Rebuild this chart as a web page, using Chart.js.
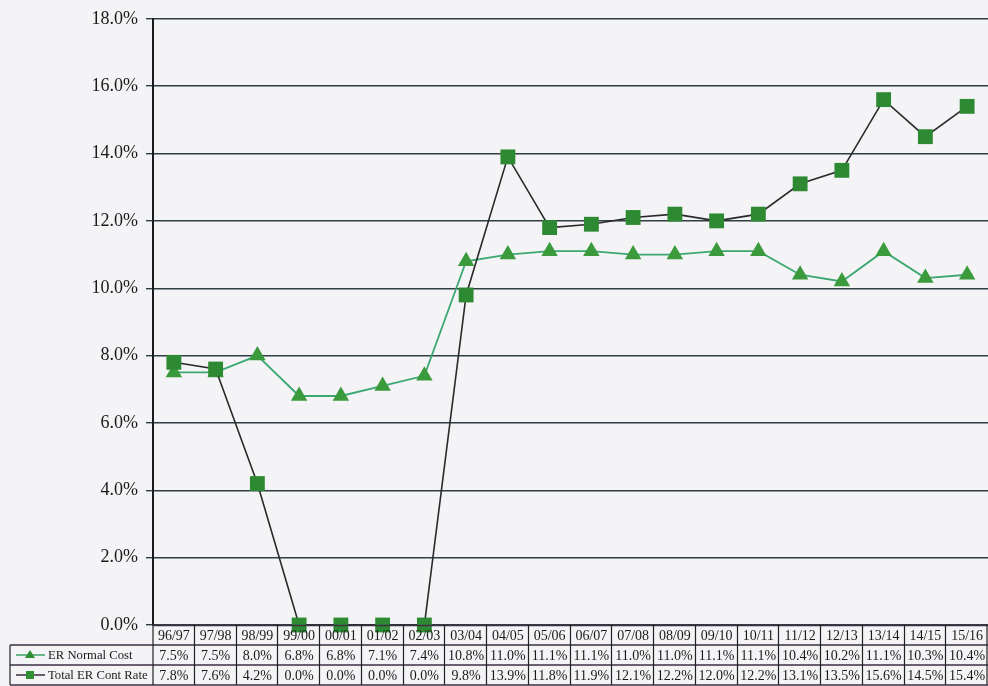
<!DOCTYPE html>
<html>
<head>
<meta charset="utf-8">
<script src="https://cdn.jsdelivr.net/npm/chart.js@4/dist/chart.umd.min.js"></script>
<style>
html,body{margin:0;padding:0;background:#f4f3f6;}
#wrap{width:988px;height:686px;position:relative;}
</style>
</head>
<body>
<div id="wrap"><canvas id="c" width="988" height="686"></canvas></div>
<script>
const categories = ["96/97","97/98","98/99","99/00","00/01","01/02","02/03","03/04","04/05","05/06","06/07","07/08","08/09","09/10","10/11","11/12","12/13","13/14","14/15","15/16"];
const erNormalCost = [7.5,7.5,8.0,6.8,6.8,7.1,7.4,10.8,11.0,11.1,11.1,11.0,11.0,11.1,11.1,10.4,10.2,11.1,10.3,10.4];
const totalERContRate = [7.8,7.6,4.2,0.0,0.0,0.0,0.0,9.8,13.9,11.8,11.9,12.1,12.2,12.0,12.2,13.1,13.5,15.6,14.5,15.4];
const seriesNames = ["ER Normal Cost","Total ER Cont Rate"];
const yTicks = [0,2,4,6,8,10,12,14,16,18];

const bgPlugin = {
  id:'bg',
  beforeDraw(chart){
    const ctx = chart.ctx;
    ctx.save();
    ctx.fillStyle = '#f4f3f6';
    ctx.fillRect(0,0,chart.width,chart.height);
    ctx.restore();
  }
};

const tablePlugin = {
  id:'dataTable',
  afterDraw(chart){
    const ctx = chart.ctx;
    const x = chart.scales.x;
    const area = chart.chartArea;
    const n = categories.length;
    const colW = (area.right - area.left) / n;
    const top = area.bottom;
    const r1 = top + 20, r2 = top + 40, r3 = chart.height - 1;
    const legLeft = 10;
    ctx.save();
    ctx.lineWidth = 1.3;
    ctx.strokeStyle = '#3d3046';
    ctx.beginPath();
    ctx.moveTo(area.left, top + 0.5); ctx.lineTo(area.right, top + 0.5);
    ctx.moveTo(legLeft, r1); ctx.lineTo(area.right, r1);
    ctx.moveTo(legLeft, r2); ctx.lineTo(area.right, r2);
    ctx.moveTo(legLeft, r3); ctx.lineTo(area.right, r3);
    ctx.stroke();
    ctx.strokeStyle = '#222';
    ctx.lineWidth = 1.2;
    ctx.beginPath();
    ctx.moveTo(legLeft, r1); ctx.lineTo(legLeft, r3);
    ctx.moveTo(area.left, top); ctx.lineTo(area.left, r3);
    for (let i = 1; i <= n; i++) {
      const bx = Math.min(Math.round(area.left + colW * i) - 0.5, chart.width - 1);
      ctx.moveTo(bx, top); ctx.lineTo(bx, r3);
    }
    ctx.stroke();
    ctx.fillStyle = '#1a1a1a';
    ctx.font = '14px "Liberation Serif", "Times New Roman", serif';
    ctx.textAlign = 'center';
    ctx.textBaseline = 'middle';
    for (let i = 0; i < n; i++) {
      const cx = x.getPixelForValue(i);
      ctx.fillText(categories[i], cx, (top + r1) / 2 + 1);
      ctx.fillText(erNormalCost[i].toFixed(1) + '%', cx, (r1 + r2) / 2 + 1);
      ctx.fillText(totalERContRate[i].toFixed(1) + '%', cx, (r2 + r3) / 2 + 1);
    }
    const rows = [(r1 + r2) / 2, (r2 + r3) / 2];
    const lineColors = ['#3aa36a', '#3a2a40'];
    ctx.font = '12.7px "Liberation Serif", "Times New Roman", serif';
    rows.forEach((ry, k) => {
      ctx.strokeStyle = lineColors[k];
      ctx.lineWidth = 1.5;
      ctx.beginPath(); ctx.moveTo(16, ry); ctx.lineTo(45, ry); ctx.stroke();
      ctx.fillStyle = '#2f8f32';
      if (k === 0) {
        ctx.beginPath(); ctx.moveTo(30, ry - 5); ctx.lineTo(35, ry + 3); ctx.lineTo(25, ry + 3); ctx.closePath(); ctx.fill();
      } else {
        ctx.fillRect(26, ry - 4, 8, 8);
      }
      ctx.fillStyle = '#1a1a1a';
      ctx.textAlign = 'left';
      ctx.fillText(seriesNames[k], 48, ry + 1);
    });
    ctx.restore();
  }
};

new Chart(document.getElementById('c'), {
  type: 'line',
  data: {
    labels: categories,
    datasets: [
      {
        label: seriesNames[1],
        data: totalERContRate,
        borderColor: '#2a2a2a',
        borderWidth: 1.6,
        pointStyle: 'rect',
        pointRadius: 10.5,
        pointBackgroundColor: '#2d8a32',
        pointBorderColor: '#2d8a32',
        pointBorderWidth: 0,
        tension: 0,
        order: 0,
        clip: false
      },
      {
        label: seriesNames[0],
        data: erNormalCost,
        borderColor: '#3aa870',
        borderWidth: 1.8,
        pointStyle: 'triangle',
        pointRadius: 9.5,
        pointBackgroundColor: '#3a9a3c',
        pointBorderColor: '#3a9a3c',
        pointBorderWidth: 0,
        tension: 0,
        order: 1,
        clip: false
      }
    ]
  },
  options: {
    responsive: false,
    animation: false,
    events: [],
    layout: { autoPadding: false, padding: { top: 17, bottom: 61, left: 0, right: 0 } },
    plugins: { legend: { display: false }, tooltip: { enabled: false } },
    scales: {
      x: {
        display: false,
        offset: true,
        grid: { display: false }
      },
      y: {
        min: 0, max: 18,
        afterBuildTicks(scale) { scale.ticks = yTicks.map(v => ({ value: v })); },
        afterFit(scale) { scale.width = 153; },
        ticks: {
          padding: 8,
          color: '#1a1a1a',
          font: { family: '"Liberation Serif", "Times New Roman", serif', size: 18 },
          callback: v => v.toFixed(1) + '%'
        },
        grid: {
          color: '#2f3f44',
          lineWidth: 1.4,
          tickLength: 7,
          drawTicks: true
        },
        border: { color: '#1a1a1a', width: 2 }
      }
    }
  },
  plugins: [bgPlugin, tablePlugin]
});
</script>
</body>
</html>
